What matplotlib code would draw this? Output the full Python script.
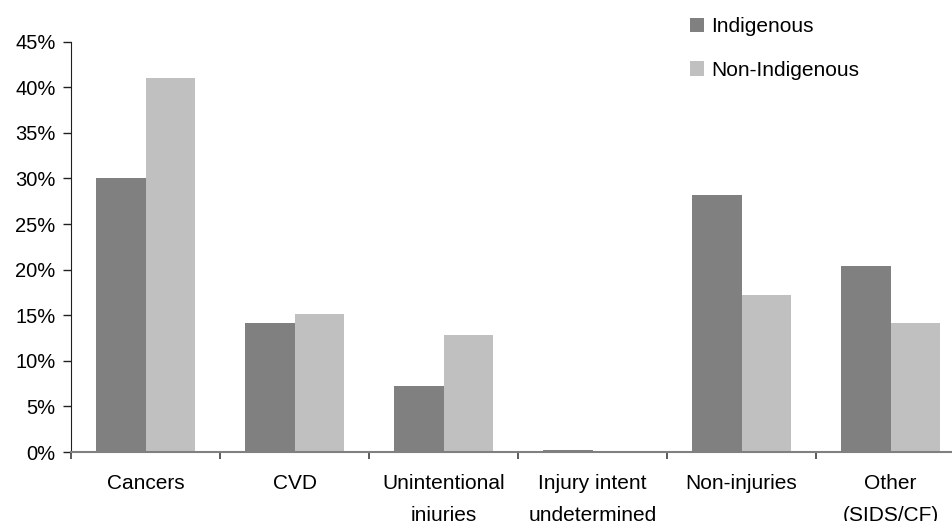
import matplotlib
matplotlib.use('Agg')

import numpy as np
import matplotlib.pyplot as plt
from matplotlib.ticker import PercentFormatter

# === Data ===
categories = ["Cancers", "CVD", "Unintentional\ninjuries", "Injury intent\nundetermined",
              "Non-injuries", "Other\n(SIDS/CF)"]
indigenous = [30.0, 14.2, 7.2, 0.2, 28.2, 20.4]
non_indigenous = [41.0, 15.1, 12.8, 0.1, 17.2, 14.1]
series_names = ["Indigenous", "Non-Indigenous"]

plt.rcParams['font.family'] = ['Liberation Sans', 'DejaVu Sans']

fig = plt.figure(figsize=(9.52, 5.21), dpi=100)
ax = fig.add_axes([71 / 952, 69 / 521, 894 / 952, (452 - 41.7) / 521])

x = np.arange(len(categories))
w = 0.333
ax.bar(x - w / 2, indigenous, w, color="#808080", label=series_names[0])
ax.bar(x + w / 2, non_indigenous, w, color="#c0c0c0", label=series_names[1])

# === Style ===
ax.set_xlim(-0.5, len(categories) - 0.5)
ax.set_ylim(0, 45)
ax.set_yticks(np.arange(0, 46, 5))
ax.yaxis.set_major_formatter(PercentFormatter(decimals=0))
ax.set_xticks(x)
ax.set_xticklabels(categories, linespacing=1.85)
ax.set_xticks(np.arange(-0.5, len(categories)), minor=True)
ax.tick_params(axis="x", which="major", length=0, pad=16, labelsize=15)
ax.tick_params(axis="x", which="minor", length=5, width=1.2, color="#404040", direction="out")
ax.tick_params(axis="y", length=6, width=1, color="#202020", labelsize=14.5, pad=5)

for s in ["top", "right"]:
    ax.spines[s].set_visible(False)
ax.spines["left"].set_color("#202020")
ax.spines["bottom"].set_color("#808080")
ax.spines["bottom"].set_linewidth(1.5)

fig.legend(loc="upper left", bbox_to_anchor=(0.705, 1.003), frameon=False,
           fontsize=15, handlelength=0.67, handleheight=0.67, handletextpad=0.34,
           labelspacing=1.18)

plt.savefig("out.png", dpi=100)
